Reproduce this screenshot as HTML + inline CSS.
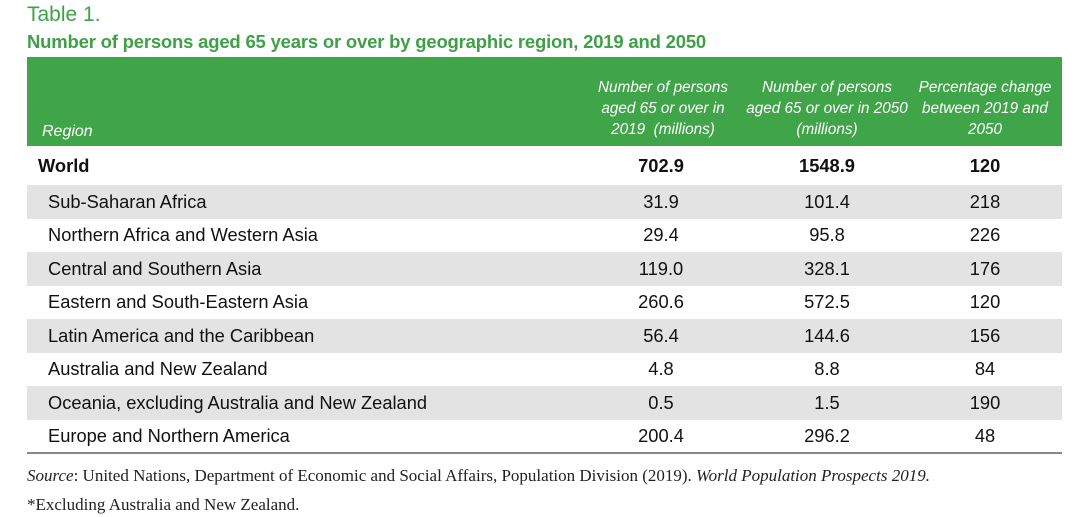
<!DOCTYPE html>
<html><head><meta charset="utf-8"><style>
body{margin:0;width:1080px;height:517px;background:#fff;font-family:"Liberation Sans",sans-serif;position:relative;overflow:hidden}
.a{position:absolute;white-space:nowrap}
#t1{left:27px;top:3px;font-size:21px;color:#3fa048}
#t2{left:27px;top:31px;font-size:18.5px;font-weight:bold;color:#3fa048;letter-spacing:-0.2px}
#hdr{left:27px;top:57px;width:1035px;height:89px;background:#40a448}
.h{color:#fff;font-style:italic;font-size:15.3px;text-align:center;line-height:21px;position:absolute;top:20px;white-space:nowrap}
.row{position:absolute;left:27px;width:1035px;height:33.5px;font-size:18.3px;color:#111}
.row.g{background:#e3e3e3}
.row span{position:absolute;top:50%;transform:translateY(-50%)}
.c{transform:translate(-50%,-50%)!important}
#src{left:27px;top:466px;font-family:"Liberation Serif",serif;font-size:17px;color:#222}
#fn{left:27px;top:495px;font-family:"Liberation Serif",serif;font-size:17px;color:#222}
</style></head><body>
<div class="a" id="t1">Table 1.</div>
<div class="a" id="t2">Number of persons aged 65 years or over by geographic region, 2019 and 2050</div>
<div class="a" id="hdr">
<div class="h" style="left:15px;top:64px;font-size:16px">Region</div>
<div class="h" style="left:636px;transform:translateX(-50%)">Number of persons<br>aged 65 or over in<br>2019&nbsp; (millions)</div>
<div class="h" style="left:800px;transform:translateX(-50%)">Number of persons<br>aged 65 or over in 2050<br>(millions)</div>
<div class="h" style="left:958px;transform:translateX(-50%)">Percentage change<br>between 2019 and<br>2050</div>
</div>
<div id="rows"></div>
<div class="a" style="left:27px;top:452px;width:1035px;height:2px;background:#888"></div>
<div class="a" id="src"><i>Source</i>: United Nations, Department of Economic and Social Affairs, Population Division (2019). <i>World Population Prospects 2019.</i></div>
<div class="a" id="fn">*Excluding Australia and New Zealand.</div>
<script>
const regions=["World","Sub-Saharan Africa","Northern Africa and Western Asia","Central and Southern Asia","Eastern and South-Eastern Asia","Latin America and the Caribbean","Australia and New Zealand","Oceania, excluding Australia and New Zealand","Europe and Northern America"];
const v2019=["702.9","31.9","29.4","119.0","260.6","56.4","4.8","0.5","200.4"];
const v2050=["1548.9","101.4","95.8","328.1","572.5","144.6","8.8","1.5","296.2"];
const pct=["120","218","226","176","120","156","84","190","48"];
const box=document.getElementById('rows');
regions.forEach((r,i)=>{
  const d=document.createElement('div');
  
  
  d.className='row'+(i%2==1?' g':'');
  const top=i==0?146:185+(i-1)*33.5;
  d.style.top=top+'px';
  if(i==0){d.style.height='39px';d.style.fontWeight='bold';}
  const cells=[[r,i==0?11:21,false],[v2019[i],634,true],[v2050[i],800,true],[pct[i],958,true]];
  cells.forEach((c,j)=>{
    const s=document.createElement('span');
    
    
    s.textContent=c[0];
    s.style.left=c[1]+'px';
    if(c[2])s.className='c';
    d.appendChild(s);
  });
  box.appendChild(d);
});
</script>
</body></html>
